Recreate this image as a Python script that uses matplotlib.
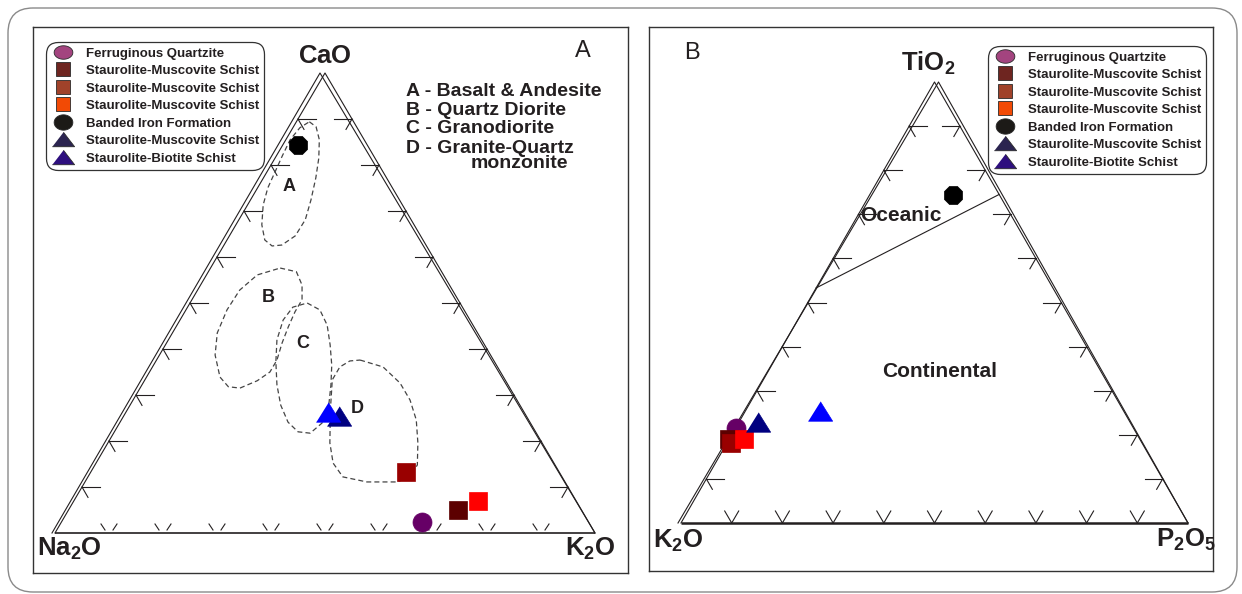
import matplotlib
matplotlib.use('Agg')
import matplotlib.pyplot as plt
from matplotlib.lines import Line2D
from matplotlib.patches import FancyBboxPatch
import numpy as np

plt.rcParams['font.family'] = 'Liberation Sans'
plt.rcParams['mathtext.fontset'] = 'custom'
plt.rcParams['mathtext.rm'] = 'Liberation Sans:bold'
plt.rcParams['mathtext.bf'] = 'Liberation Sans:bold'
plt.rcParams['mathtext.default'] = 'rm'

W, H = 1242, 594
H3 = np.sqrt(3) / 2
INK = '#231f20'

# samples (normalised oxide %)
labels = ["Ferruginous Quartzite", "Staurolite-Muscovite Schist",
          "Staurolite-Muscovite Schist", "Staurolite-Muscovite Schist",
          "Banded Iron Formation", "Staurolite-Muscovite Schist",
          "Staurolite-Biotite Schist"]
plot_colors = ['#660066', '#5c0000', '#990000', '#ff0000', '#000000', '#000080', '#0000ff']
key_colors = ['#a3447f', '#6e2520', '#a0422a', '#f24a05', '#1c1a17', '#2b2450', '#2e0f7e']
draw_order = [0, 1, 2, 3, 4, 6, 5]

# A: Na2O - K2O - CaO
a_na2o = [30.8, 22.9, 28.3, 18.1, 12.8, 34.7, 36.3]
a_k2o = [66.8, 72.1, 58.4, 74.9, 2.8, 39.9, 37.4]
a_cao = [2.4, 5.0, 13.3, 7.0, 84.4, 25.4, 26.3]

# B: K2O - P2O5 - TiO2
b_k2o = [78.5, 80.9, 81.0, 78.0, 9.1, 73.4, 59.9]
b_p2o5 = [0.0, 0.0, 0.8, 2.9, 16.5, 3.7, 14.7]
b_tio2 = [21.5, 19.1, 18.2, 19.1, 74.4, 22.9, 25.4]

# granitoid fields in A (CaO %, K2O %, Na2O is the rest)
fieldA_cao = [89.4, 88.3, 85.5, 81.5, 77.2, 72.4, 68.1, 64.6, 62.6, 62.4, 63.7, 67.0, 71.3, 75.0, 78.5, 82.0, 85.5, 88.1]
fieldA_k2o = [2.4, 4.2, 6.2, 8.1, 9.7, 11.2, 12.3, 12.2, 10.7, 9.0, 7.0, 4.8, 2.9, 1.9, 1.5, 1.1, 0.8, 1.3]
fieldB_cao = [57.6, 56.8, 53.9, 50.7, 48.1, 44.8, 41.3, 37.6, 35.0, 33.1, 31.5, 31.8, 33.9, 38.7, 43.5, 48.5, 52.8, 56.1]
fieldB_k2o = [12.9, 16.3, 18.8, 20.4, 20.4, 20.8, 21.4, 22.3, 22.3, 20.9, 18.5, 16.2, 13.6, 10.3, 8.3, 7.6, 7.8, 9.4]
fieldC_cao = [50.0, 48.5, 45.2, 40.9, 36.5, 32.2, 27.8, 23.9, 21.7, 22.0, 24.1, 27.8, 32.2, 37.2, 42.0, 46.3, 49.1]
fieldC_k2o = [21.7, 24.8, 27.8, 30.5, 33.0, 35.0, 36.8, 37.5, 36.4, 34.0, 31.1, 27.9, 25.0, 22.3, 20.1, 19.1, 19.5]
fieldD_cao = [37.6, 36.1, 32.6, 28.9, 24.6, 19.6, 14.8, 12.2, 11.1, 11.1, 12.2, 15.2, 19.6, 26.8, 33.3, 36.1, 37.4]
fieldD_k2o = [37.7, 42.7, 47.6, 51.3, 54.6, 57.4, 59.7, 59.7, 57.8, 52.2, 47.2, 43.9, 41.1, 37.6, 34.7, 34.7, 35.9]

# oceanic / continental divide in B
divide_tio2 = [53.3, 74.5]
divide_p2o5 = [0.0, 25.5]


def to_xy(left, right, top):
    left, right, top = (np.asarray(v, float) for v in (left, right, top))
    s = left + right + top
    return (right + top / 2) / s, top / s * H3


fig = plt.figure(figsize=(W / 100, H / 100), dpi=100)


def make_panel(box, base_l, base_r, apex_y):
    x0, y0, x1, y1 = box
    ax = fig.add_axes([x0 / W, 1 - y1 / H, (x1 - x0) / W, (y1 - y0) / H])
    sx = base_r[0] - base_l[0]
    sy = (base_l[1] - apex_y) / H3
    ax.set_xlim((x0 - base_l[0]) / sx, (x1 - base_l[0]) / sx)
    ax.set_ylim((base_l[1] - y1) / sy, (base_l[1] - y0) / sy)
    ax.set_xticks([])
    ax.set_yticks([])
    for sp in ax.spines.values():
        sp.set_color('#333333')
        sp.set_linewidth(1.0)
    return ax, 1 / sx, 1 / sy


def draw_frame(ax, px, py, shift, base_lw, v_ticks):
    lw = 0.8
    ax.plot([0, 0.5, 1], [0, H3, 0], color=INK, lw=lw, zorder=2)
    ax.plot([0, 1], [0, 0], color=INK, lw=base_lw, zorder=2, solid_capstyle='butt')
    # second outline, slightly offset
    ax.plot([shift[0] * px, 0.5 + shift[1] * px, 1 + shift[2] * px], [0, H3, 0],
            color=INK, lw=lw, zorder=2)
    hl = 18 * px
    dx, dy = 6 * px, 10.4 * py
    for t in np.arange(1, 10) / 10:
        lx, ly = t / 2, t * H3
        ax.plot([lx, lx + hl], [ly, ly], color=INK, lw=lw)
        ax.plot([lx, lx + dx], [ly, ly - dy], color=INK, lw=lw)
        rx = 1 - t / 2
        ax.plot([rx, rx - hl], [ly, ly], color=INK, lw=lw)
        ax.plot([rx, rx - dx], [ly, ly - dy], color=INK, lw=lw)
        if v_ticks:
            ax.plot([t - 7 * px, t, t + 7 * px], [12 * py, 0, 12 * py], color=INK, lw=lw)
        else:
            ax.plot([t - 8 * px, t - 4 * px], [9 * py, 3 * py], color=INK, lw=lw)
            ax.plot([t + 8 * px, t + 4 * px], [9 * py, 3 * py], color=INK, lw=lw)


tri_marker = [(-1, -0.8), (1, -0.8), (0, 0.8)]
plot_markers = ['o', 's', 's', 's', '8', tri_marker, tri_marker]
plot_sizes = [13.7, 13.3, 13.3, 13.3, 14, 17.5, 17.5]

th = np.linspace(0, 2 * np.pi, 41)
oval = list(zip(np.cos(th), 0.72 * np.sin(th)))
oval2 = list(zip(np.cos(th), 0.82 * np.sin(th)))
key_tri = [(-1, -0.65), (1, -0.65), (0, 0.65)]
key_markers = [oval, 's', 's', 's', oval2, key_tri, key_tri]
key_sizes = [13.5, 10.5, 10.5, 10.5, 13.5, 16, 16]


def draw_samples(ax, xs, ys):
    for i in draw_order:
        ax.plot(xs[i], ys[i], ls='none', marker=plot_markers[i], ms=plot_sizes[i],
                mfc=plot_colors[i], mec=plot_colors[i], mew=0.5, zorder=4 + i * 0.01)


def add_key(ax, anchor):
    handles = [Line2D([], [], ls='none', marker=m, ms=s, mfc=c, mec='#2a2a2a', mew=0.6)
               for m, s, c in zip(key_markers, key_sizes, key_colors)]
    leg = ax.legend(handles, labels, loc='upper left', bbox_to_anchor=anchor,
                    borderaxespad=0, numpoints=1,
                    prop={'family': 'Liberation Sans', 'weight': 'bold', 'size': 9.5},
                    handlelength=1.8, handletextpad=0.8, labelspacing=0.4,
                    borderpad=0.4, frameon=True, fancybox=True, framealpha=1,
                    edgecolor='#333333')
    leg.get_frame().set_boxstyle('round', pad=0, rounding_size=0.9)
    leg.get_frame().set_linewidth(0.9)
    for t in leg.get_texts():
        t.set_color(INK)
    leg.set_zorder(6)


vlab = dict(fontsize=18.5, color=INK, ha='center', va='center')

# ---------------- panel A ----------------
axA, pxA, pyA = make_panel((33, 27, 628, 573), (55, 533), (595, 533), 73)
draw_frame(axA, pxA, pyA, (-3, -5, 0), 1.2, False)

for fc, fk in [(fieldA_cao, fieldA_k2o), (fieldB_cao, fieldB_k2o),
               (fieldC_cao, fieldC_k2o), (fieldD_cao, fieldD_k2o)]:
    cao = np.array(fc + fc[:1])
    k2o = np.array(fk + fk[:1])
    fx, fy = to_xy(100 - cao - k2o, k2o, cao)
    axA.plot(fx, fy, color='#444444', lw=0.9, dashes=(4, 2.5), zorder=3)

for s, x, y in [('A', 0.433, 0.653), ('B', 0.394, 0.444), ('C', 0.459, 0.356), ('D', 0.559, 0.235)]:
    axA.text(x, y, s, fontsize=13, fontweight='bold', color=INK, ha='center', va='center')

xa, ya = to_xy(a_na2o, a_k2o, a_cao)
draw_samples(axA, xa, ya)

axA.text(0.5, 0.898, r'$\mathbf{CaO}$', **vlab)
axA.text(0.026, -0.030, r'$\mathbf{Na_2O}$', **vlab)
axA.text(0.991, -0.030, r'$\mathbf{K_2O}$', **vlab)
axA.text(0.978, 0.908, 'A', fontsize=17, color=INK, ha='center', va='center')

key_lines = [('A - Basalt & Andesite', 0.65, 0.823), ('B - Quartz Diorite', 0.65, 0.787),
             ('C - Granodiorite', 0.65, 0.753), ('D - Granite-Quartz', 0.65, 0.716),
             ('monzonite', 0.770, 0.687)]
for s, x, y in key_lines:
    axA.text(x, y, s, fontsize=14, fontweight='bold', color=INK, ha='left', va='baseline')

add_key(axA, ((46 - 33) / 595, (573 - 42) / 546))

# ---------------- panel B ----------------
axB, pxB, pyB = make_panel((649, 27, 1213, 571), (681, 523), (1188, 523), 82)
draw_frame(axB, pxB, pyB, (-3, 4, 0), 1.8, True)

dt = np.array(divide_tio2)
dp = np.array(divide_p2o5)
dx_, dy_ = to_xy(100 - dt - dp, dp, dt)
axB.plot(dx_, dy_, color=INK, lw=0.8, zorder=2)

xb, yb = to_xy(b_k2o, b_p2o5, b_tio2)
draw_samples(axB, xb, yb)

axB.text(0.434, 0.603, 'Oceanic', fontsize=15, fontweight='bold', color=INK, ha='center', va='center')
axB.text(0.511, 0.297, 'Continental', fontsize=15, fontweight='bold', color=INK, ha='center', va='center')
axB.text(0.487, 0.902, r'$\mathbf{TiO_2}$', **vlab)
axB.text(-0.006, -0.035, r'$\mathbf{K_2O}$', **vlab)
axB.text(0.995, -0.033, r'$\mathbf{P_2O_5}$', **vlab)
axB.text(0.0217, 0.923, 'B', fontsize=17, color=INK, ha='center', va='center')

add_key(axB, ((988 - 649) / 564, (571 - 46) / 544))

# outer rounded frame
frame = FancyBboxPatch((0.08, 0.02), 12.29, 5.84, boxstyle='round,pad=0,rounding_size=0.25',
                       transform=fig.dpi_scale_trans, fill=False, edgecolor='#8a8a8a', lw=1.0)
fig.patches.append(frame)

fig.savefig('out.png', dpi=100)
